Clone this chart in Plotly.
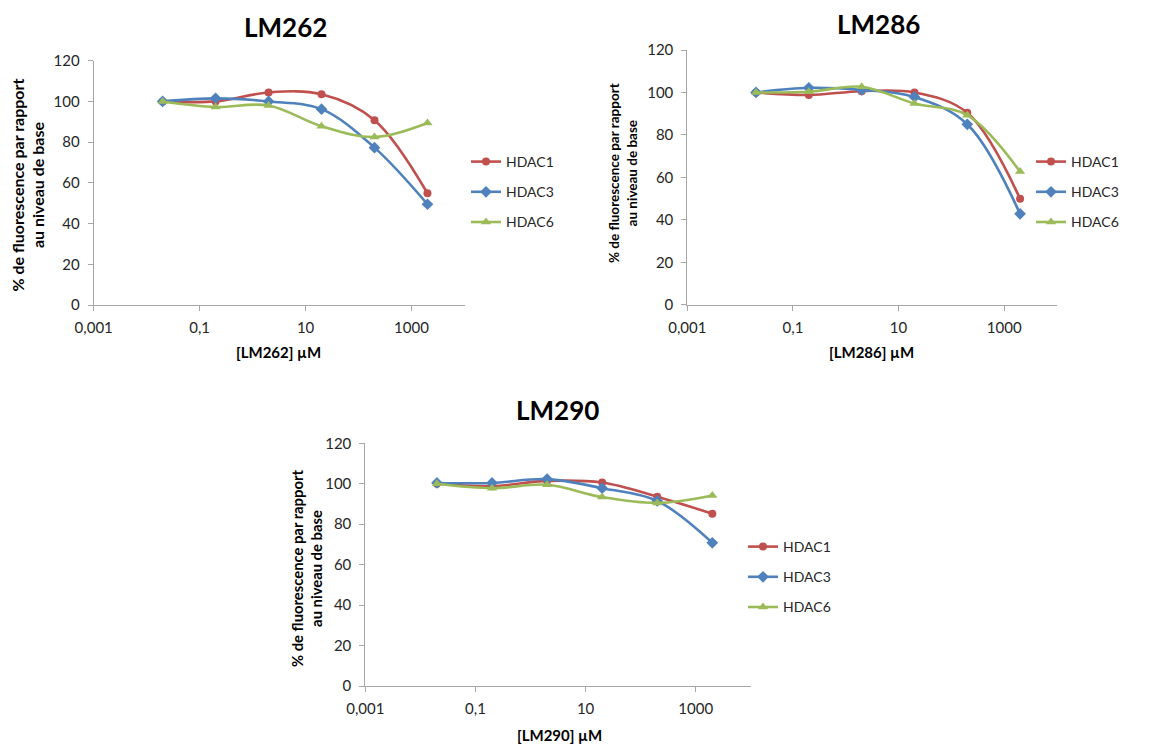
import plotly.graph_objects as go

conc = [0.02, 0.2, 2, 20, 200, 2000]
series_names = ["HDAC1", "HDAC3", "HDAC6"]

lm262_hdac1 = [100, 100, 104.4, 103.5, 90.8, 54.9]
lm262_hdac3 = [100, 101.5, 100, 96.2, 77.3, 49.5]
lm262_hdac6 = [100, 97.3, 98, 87.8, 82.5, 89.4]

lm286_hdac1 = [100, 98.8, 100.6, 100, 90.4, 49.9]
lm286_hdac3 = [100, 102.2, 101.2, 97.9, 85, 42.8]
lm286_hdac6 = [100, 100.3, 102.7, 94.8, 89.3, 62.7]

lm290_hdac1 = [100, 98.8, 101.4, 100.6, 93.6, 85.2]
lm290_hdac3 = [100.4, 100.4, 102.3, 97.8, 91.5, 70.8]
lm290_hdac6 = [100, 97.8, 99.5, 93.4, 90.5, 94.2]

titles = ["LM262", "LM286", "LM290"]
xtitles = ["[LM262] µM", "[LM286] µM", "[LM290] µM"]
ytitle = "% de fluorescence par rapport<br>au niveau de base"
xtick_vals = [0.001, 0.1, 10, 1000]
xtick_text = ["0,001", "0,1", "10", "1000"]

colors = ["#C0504D", "#4F81BD", "#9BBB59"]
symbols = ["circle", "diamond", "triangle-up"]
msizes = [8, 9, 9]

W, H = 1152, 744
FONT = "Lato, Calibri, Arial, sans-serif"
TXT = "#262626"

# panel pixel boxes: (x0, x1, ytop, ybottom)
panels = [
    (93.7, 464.5, 60.7, 305.0),
    (687.3, 1057.0, 50.0, 304.7),
    (365.3, 750.8, 443.3, 686.0),
]
legend_pos = [(466, 146), (1031, 146), (743, 531)]
title_pos = [(285, 27), (878, 24), (557, 410)]
xtitle_pos = [(278, 352), (871, 352), (559, 735)]
ytitle_pos = [(27.5, 185, 16), (623, 173, 13.5), (306, 569, 14.8)]

data = [
    [lm262_hdac1, lm262_hdac3, lm262_hdac6],
    [lm286_hdac1, lm286_hdac3, lm286_hdac6],
    [lm290_hdac1, lm290_hdac3, lm290_hdac6],
]

fig = go.Figure()
layout = dict(
    width=W, height=H, autosize=False,
    margin=dict(l=0, r=0, t=0, b=0, pad=0, autoexpand=False),
    paper_bgcolor="white", plot_bgcolor="white",
    font=dict(family=FONT, size=14, color=TXT),
    annotations=[],
)

for p in range(3):
    x0, x1, yt, yb = panels[p]
    sfx = "" if p == 0 else str(p + 1)
    leg = "legend" if p == 0 else "legend" + str(p + 1)
    for s in range(3):
        fig.add_trace(go.Scatter(
            x=conc, y=data[p][s], name=series_names[s],
            mode="lines+markers",
            line=dict(color=colors[s], width=2.6, shape="spline", smoothing=1),
            marker=dict(symbol=symbols[s], size=msizes[s], color=colors[s]),
            xaxis="x" + sfx, yaxis="y" + sfx,
            legend=leg, legendgroup=f"g{p}{s}",
        ))
    layout["xaxis" + sfx] = dict(
        type="log", range=[-3, 4], automargin=False,
        domain=[x0 / W, x1 / W], anchor="y" + sfx,
        tickvals=xtick_vals, ticktext=xtick_text,
        showgrid=False, zeroline=False,
        showline=True, linecolor="#A6A6A6", linewidth=1,
        ticks="outside", ticklen=5, tickcolor="#A6A6A6",
        ticklabelstandoff=4,
        tickfont=dict(size=15, color=TXT, family=FONT),
    )
    layout["yaxis" + sfx] = dict(
        range=[0, 120], dtick=20, automargin=False,
        domain=[1 - yb / H, 1 - yt / H], anchor="x" + sfx,
        showgrid=False, zeroline=False,
        showline=True, linecolor="#A6A6A6", linewidth=1,
        ticks="outside", ticklen=5, tickcolor="#A6A6A6",
        ticklabelstandoff=5,
        tickfont=dict(size=15, color=TXT, family=FONT),
    )
    lx, ly = legend_pos[p]
    layout[leg] = dict(
        x=lx / W, y=1 - ly / H, xanchor="left", yanchor="top",
        bgcolor="rgba(0,0,0,0)", tracegroupgap=9,
        font=dict(size=14, color=TXT, family=FONT),
        itemwidth=30,
    )
    tx, ty = title_pos[p]
    layout["annotations"].append(dict(
        text="<b>" + titles[p] + "</b>", xref="paper", yref="paper",
        x=tx / W, y=1 - ty / H, showarrow=False,
        font=dict(size=26, color="black", family=FONT),
        xanchor="center", yanchor="middle",
    ))
    xx, xy = xtitle_pos[p]
    layout["annotations"].append(dict(
        text="<b>" + xtitles[p] + "</b>", xref="paper", yref="paper",
        x=xx / W, y=1 - xy / H, showarrow=False,
        font=dict(size=15, color="black", family=FONT),
        xanchor="center", yanchor="middle",
    ))
    yx, yy, ys = ytitle_pos[p]
    layout["annotations"].append(dict(
        text="<b>" + ytitle + "</b>", xref="paper", yref="paper",
        x=yx / W, y=1 - yy / H, showarrow=False,
        textangle=-90,
        font=dict(size=ys, color="black", family=FONT),
        xanchor="center", yanchor="middle",
    ))

fig.update_layout(**layout)
fig.write_html(
    "out.html",
    config={"displayModeBar": False},
    post_script="document.body.style.margin='0px';document.body.style.overflow='hidden';",
)
